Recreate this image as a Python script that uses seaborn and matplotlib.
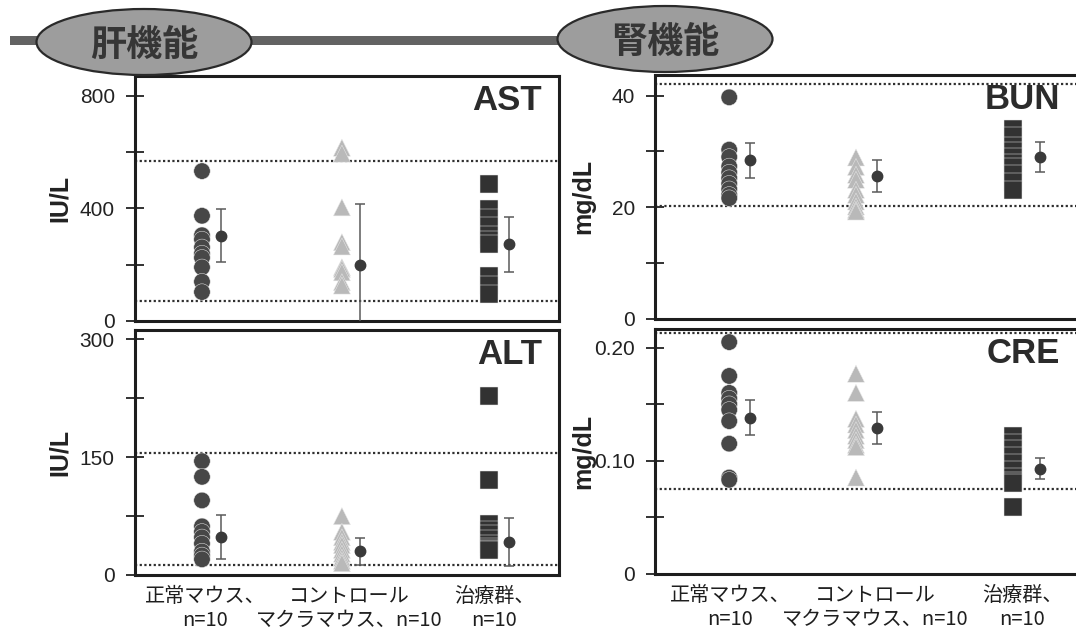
import matplotlib
matplotlib.use("Agg")
import matplotlib.pyplot as plt
import numpy as np
import pandas as pd
import seaborn as sns
from matplotlib.patches import Ellipse, Rectangle

# ---- groups ----
groups = ["正常マウス", "コントロールマクラマウス", "治療群"]
group_ticklabels = ["正常マウス、\nn=10", "コントロール\nマクラマウス、n=10", "治療群、\nn=10"]

# ---- liver function: AST (IU/L) ----
ast_normal = [533, 374, 305, 290, 262, 240, 225, 191, 140, 103]
ast_control = [616, 595, 404, 280, 265, 191, 185, 173, 138, 126]
ast_treated = [486, 397, 368, 338, 305, 290, 274, 161, 128, 97]
ast_mean = [303, 200, 272]
ast_sd = [95, 215, 98]
ast_ref = [570, 70]

# ---- liver function: ALT (IU/L) ----
alt_normal = [145, 125, 95, 62, 55, 48, 40, 30, 25, 20]
alt_control = [75, 55, 48, 42, 38, 32, 27, 22, 18, 15]
alt_treated = [228, 121, 65, 58, 52, 46, 40, 36, 33, 32]
alt_mean = [48, 30, 42]
alt_sd = [28, 17, 31]
alt_ref = [156, 13]

# ---- kidney function: BUN (mg/dL) ----
bun_normal = [39.7, 30.3, 29.0, 27.3, 26.2, 25.2, 24.2, 23.2, 22.2, 21.6]
bun_control = [28.9, 27.2, 25.8, 24.9, 23.1, 22.2, 21.0, 20.1, 19.5, 19.2]
bun_treated = [34.0, 32.8, 31.0, 30.0, 29.0, 28.0, 27.2, 26.0, 24.5, 23.0]
bun_mean = [28.4, 25.6, 29.0]
bun_sd = [3.1, 2.85, 2.65]
bun_ref = [42.0, 20.2]

# ---- kidney function: CRE (mg/dL) ----
cre_normal = [0.205, 0.175, 0.160, 0.155, 0.150, 0.145, 0.135, 0.115, 0.085, 0.083]
cre_control = [0.177, 0.160, 0.137, 0.132, 0.127, 0.122, 0.118, 0.114, 0.112, 0.085]
cre_treated = [0.122, 0.116, 0.110, 0.104, 0.098, 0.092, 0.086, 0.082, 0.080, 0.059]
cre_mean = [0.138, 0.129, 0.093]
cre_sd = [0.0155, 0.0145, 0.0095]
cre_ref = [0.213, 0.075]

# ---- axis ticks ----
ast_ticks = [0, 200, 400, 600, 800]
ast_ticklabels = ["0", "", "400", "", "800"]
alt_ticks = [0, 75, 150, 225, 300]
alt_ticklabels = ["0", "", "150", "", "300"]
bun_ticks = [0, 10, 20, 30, 40]
bun_ticklabels = ["0", "", "20", "", "40"]
cre_ticks = [0, 0.05, 0.10, 0.15, 0.20]
cre_ticklabels = ["0", "", "0.10", "", "0.20"]

sns.set_theme(style="white")
plt.rcParams["font.family"] = ["Liberation Sans", "Noto Sans CJK JP", "DejaVu Sans"]

W, H = 1076, 641
fig = plt.figure(figsize=(W / 100, H / 100), dpi=100)
fig.patch.set_facecolor("white")


def px_axes(x0, y_top, x1, y_bot):
    return fig.add_axes([x0 / W, 1 - y_bot / H, (x1 - x0) / W, (y_bot - y_top) / H])


ax_ast = px_axes(135, 76, 559, 321)
ax_alt = px_axes(135, 330, 559, 575)
ax_bun = px_axes(655, 75, 1079, 318.5)
ax_cre = px_axes(655, 329, 1079, 573.5)

# horizontal layout (axes x in 0..1)
left_pts = [0.158, 0.488, 0.835]
left_means = [0.203, 0.530, 0.882]
left_ticks = [0.165, 0.505, 0.847]
right_pts = [0.175, 0.474, 0.844]
right_means = [0.224, 0.524, 0.909]
right_ticks = [0.177, 0.519, 0.866]

markers = dict(zip(groups, ["o", "^", "s"]))
palette = dict(zip(groups, ["#474747", "#b9b9b9", "#323232"]))
sizes = dict(zip(groups, [140, 150, 165]))


def panel(ax, vals, mean, sd, ref, ylim, ticks, ticklabels, title, ylabel,
          pts, mpos, xt, bottom_row):
    df = pd.DataFrame({
        "group": np.repeat(groups, [len(v) for v in vals]),
        "value": np.concatenate([np.asarray(v, float) for v in vals]),
    })
    df["x"] = df["group"].map(dict(zip(groups, pts)))
    for r in ref:
        ax.axhline(r, color="#2f2f2f", lw=1.6, ls=(0, (1, 1.1)), zorder=1)
    sns.scatterplot(data=df, x="x", y="value", hue="group", style="group",
                    size="group", markers=markers, palette=palette, sizes=sizes,
                    edgecolor="#e8e8e8", linewidth=0.35, legend=False, ax=ax, zorder=3)
    ax.errorbar(mpos, mean, yerr=sd, fmt="o", ms=7.5, mfc="#3a3a3a", mec="#3a3a3a",
                ecolor="#5a5a5a", elinewidth=1.1, capsize=3.8, capthick=1.1, zorder=4)
    ax.set_xlim(0, 1)
    ax.set_ylim(*ylim)
    ax.set_yticks(ticks)
    ax.set_yticklabels(ticklabels)
    ax.tick_params(axis="y", direction="inout", length=13, width=1.3, color="#222222",
                   pad=8, labelsize=15, labelcolor="#222222", left=True)
    if bottom_row:
        ax.set_xticks(xt)
        ax.set_xticklabels(group_ticklabels, family=["Noto Sans CJK JP"], fontsize=14.5,
                           color="#1e1e1e", linespacing=1.2)
        ax.tick_params(axis="x", length=0, pad=8)
    else:
        ax.set_xticks([])
    ax.set_xlabel("")
    ax.set_ylabel(ylabel, fontsize=18, fontweight="bold", color="#222222")
    for s in ax.spines.values():
        s.set_visible(True)
        s.set_linewidth(2.2)
        s.set_color("#1e1e1e")
    ax.text(0.96, 0.9, title, transform=ax.transAxes, ha="right", va="center",
            fontsize=25, fontweight="bold", color="#2b2b2b")


panel(ax_ast, [ast_normal, ast_control, ast_treated], ast_mean, ast_sd, ast_ref,
      (0, 871), ast_ticks, ast_ticklabels, "AST", "IU/L", left_pts, left_means, left_ticks, False)
panel(ax_alt, [alt_normal, alt_control, alt_treated], alt_mean, alt_sd, alt_ref,
      (0, 312), alt_ticks, alt_ticklabels, "ALT", "IU/L", left_pts, left_means, left_ticks, True)
panel(ax_bun, [bun_normal, bun_control, bun_treated], bun_mean, bun_sd, bun_ref,
      (0, 43.7), bun_ticks, bun_ticklabels, "BUN", "mg/dL", right_pts, right_means, right_ticks, False)
panel(ax_cre, [cre_normal, cre_control, cre_treated], cre_mean, cre_sd, cre_ref,
      (0, 0.2166), cre_ticks, cre_ticklabels, "CRE", "mg/dL", right_pts, right_means, right_ticks, True)

for ax in (ax_ast, ax_alt):
    ax.yaxis.set_label_coords(-0.148, 0.5)
for ax in (ax_bun, ax_cre):
    ax.yaxis.set_label_coords(-0.142, 0.5)
    ax.texts[-1].set_x(0.955)

# ---- section header: bar with two ellipse badges ----
fig.patches.append(Rectangle((10 / W, 1 - 45 / H), (600 - 10) / W, 9 / H,
                             transform=fig.transFigure, facecolor="#636363",
                             edgecolor="none", zorder=1))
for cx, cy, label, ty in [(144, 42, "肝機能", 45), (665, 39, "腎機能", 42)]:
    fig.patches.append(Ellipse((cx / W, 1 - cy / H), 215 / W, 66 / H,
                               transform=fig.transFigure, facecolor="#9d9d9d",
                               edgecolor="#2a2a2a", lw=1.6, zorder=2))
    fig.text(cx / W, 1 - ty / H, label, ha="center", va="center", fontsize=26,
             fontweight="bold", family=["Noto Sans CJK JP"], color="#363636", zorder=3)

fig.savefig("out.png", dpi=100, facecolor="white")
